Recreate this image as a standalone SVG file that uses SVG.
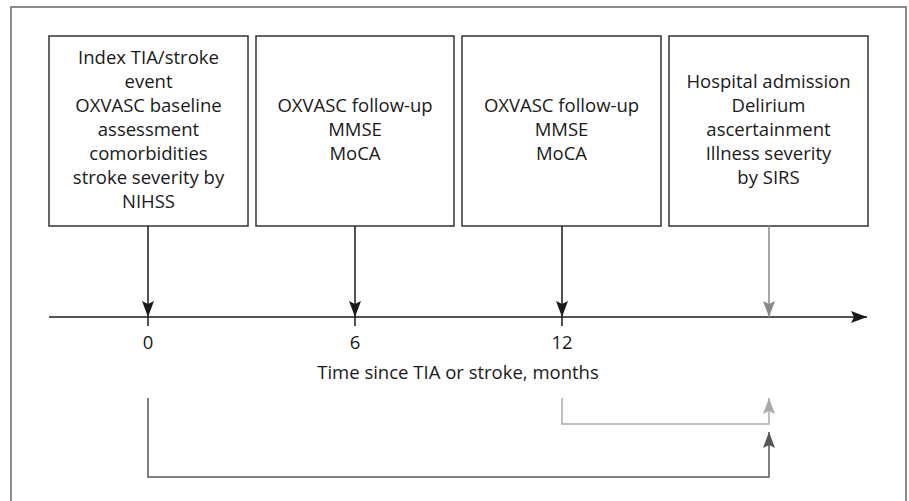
<svg xmlns="http://www.w3.org/2000/svg" width="909" height="501" viewBox="0 0 909 501">
<style>
text{font-family:"Open Sans","Noto Sans","Liberation Sans",sans-serif;font-size:18.5px;fill:#1a1a1a;text-anchor:middle}
.box{fill:#fff;stroke:#333;stroke-width:1.5}
.blk{stroke:#1a1a1a;stroke-width:1.5;fill:none}
</style>
<defs>
<marker id="ah" viewBox="0 0 16 12" refX="16" refY="6" markerWidth="16" markerHeight="12" markerUnits="userSpaceOnUse" orient="auto"><path d="M0,0 L16,6 L0,12 L3,6 Z" fill="#1a1a1a"/></marker>
<marker id="ahg" viewBox="0 0 16 12" refX="16" refY="6" markerWidth="16" markerHeight="12" markerUnits="userSpaceOnUse" orient="auto"><path d="M0,0 L16,6 L0,12 L3,6 Z" fill="#888"/></marker>
<marker id="ahl" viewBox="0 0 16 12" refX="16" refY="6" markerWidth="16" markerHeight="12" markerUnits="userSpaceOnUse" orient="auto"><path d="M0,0 L16,6 L0,12 L3,6 Z" fill="#aaa"/></marker>
<marker id="ahd" viewBox="0 0 16 12" refX="16" refY="6" markerWidth="16" markerHeight="12" markerUnits="userSpaceOnUse" orient="auto"><path d="M0,0 L16,6 L0,12 L3,6 Z" fill="#555"/></marker>
</defs>
<rect x="11" y="7" width="895" height="500" fill="none" stroke="#666" stroke-width="1.5"/>
<g id="n1"><rect class="box" x="49" y="36" width="199" height="190"/>
<text x="148.5" y="64">Index TIA/stroke</text><text x="148.5" y="88">event</text><text x="148.5" y="112">OXVASC baseline</text><text x="148.5" y="136">assessment</text><text x="148.5" y="160">comorbidities</text><text x="148.5" y="184">stroke severity by</text><text x="148.5" y="208">NIHSS</text></g>
<g id="n2"><rect class="box" x="256" y="36" width="198" height="190"/>
<text x="355" y="112">OXVASC follow-up</text><text x="355" y="136">MMSE</text><text x="355" y="160">MoCA</text></g>
<g id="n3"><rect class="box" x="462" y="36" width="199" height="190"/>
<text x="561.5" y="112">OXVASC follow-up</text><text x="561.5" y="136">MMSE</text><text x="561.5" y="160">MoCA</text></g>
<g id="n4"><rect class="box" x="669" y="36" width="199" height="190"/>
<text x="768.5" y="88">Hospital admission</text><text x="768.5" y="112">Delirium</text><text x="768.5" y="136">ascertainment</text><text x="768.5" y="160">Illness severity</text><text x="768.5" y="184">by SIRS</text></g>
<g id="axis">
<line class="blk" x1="49" y1="317" x2="867" y2="317" marker-end="url(#ah)"/>
<line class="blk" x1="148" y1="317" x2="148" y2="326"/>
<line class="blk" x1="355" y1="317" x2="355" y2="326"/>
<line class="blk" x1="562" y1="317" x2="562" y2="326"/>
<text x="148" y="349">0</text><text x="355" y="349">6</text><text x="562" y="349">12</text>
<text x="458" y="379">Time since TIA or stroke, months</text>
</g>
<g id="connectors">
<line class="blk" x1="148" y1="226" x2="148" y2="317" marker-end="url(#ah)"/>
<line class="blk" x1="355" y1="226" x2="355" y2="317" marker-end="url(#ah)"/>
<line class="blk" x1="562" y1="226" x2="562" y2="317" marker-end="url(#ah)"/>
<line x1="769" y1="226" x2="769" y2="317" stroke="#888" stroke-width="1.5" marker-end="url(#ahg)"/>
<polyline points="562,398 562,424 769,424 769,398" fill="none" stroke="#aaa" stroke-width="1.5" marker-end="url(#ahl)"/>
<polyline points="148,398 148,477 769,477 769,432" fill="none" stroke="#555" stroke-width="1.5" marker-end="url(#ahd)"/>
</g>
</svg>
